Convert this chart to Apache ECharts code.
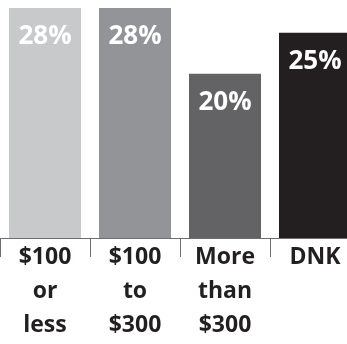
<!DOCTYPE html>
<html><head><meta charset="utf-8">
<script src="https://cdn.jsdelivr.net/npm/echarts@6/dist/echarts.min.js"></script>
<style>html,body{margin:0;padding:0;background:#fff}#c{width:347px;height:344px}</style>
</head><body><div id="c"></div>
<script>
const categories = ['$100\nor\nless', '$100\nto\n$300', 'More\nthan\n$300', 'DNK'];
const values = [28, 28, 20, 25];
const colors = ['#c8c9cb', '#939497', '#636365', '#231f20'];

const chart = echarts.init(document.getElementById('c'), null, {renderer: 'canvas'});
chart.setOption({
  animation: false,
  grid: {left: 0, width: 360, top: 8, bottom: 106, containLabel: false, outerBoundsMode: 'none'},
  xAxis: {
    type: 'category',
    data: categories,
    axisLine: {lineStyle: {color: '#6d6e70', width: 1}},
    axisTick: {show: true, length: 19, lineStyle: {color: '#6d6e70', width: 1}},
    axisLabel: {
      margin: 2, color: '#231f20', fontSize: 23, fontWeight: 'bold',
      fontFamily: 'Open Sans', lineHeight: 34, interval: 0
    }
  },
  yAxis: {type: 'value', min: 0, max: 28, show: false, splitLine: {show: false}},
  series: [{
    type: 'bar',
    barWidth: 72,
    data: values.map((v, i) => ({value: v, itemStyle: {color: colors[i]}})),
    label: {
      show: true, position: 'insideTop', distance: 16,
      formatter: p => p.value + '%',
      color: '#fff', fontSize: 26, fontWeight: 'bold', fontFamily: 'Open Sans'
    }
  }]
});
</script></body></html>
